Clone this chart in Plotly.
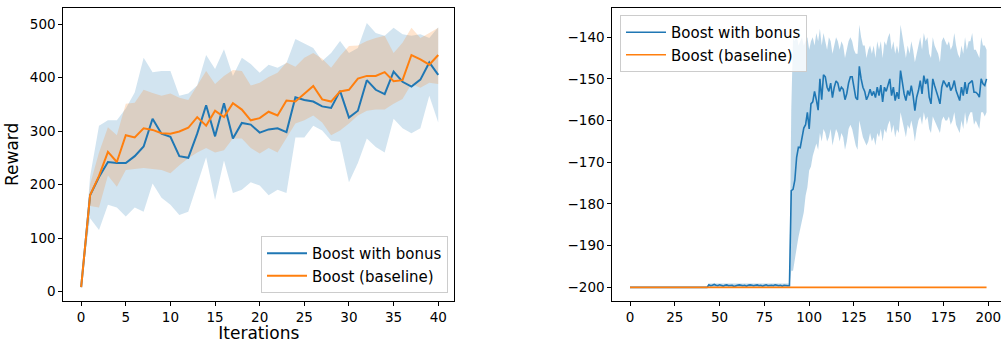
import plotly.graph_objects as go

# ---------------- Left panel data (41 iterations) ----------------
iters = list(range(41))
bonus_mean = [8, 180, 214, 242, 240, 240, 253, 271, 323, 295, 289, 253, 250, 295, 348, 290, 352, 286, 315, 312,
              297, 303, 305, 298, 363, 358, 355, 346, 343, 375, 325, 338, 395, 377, 369, 411, 392, 383, 396, 428, 405]
bonus_upper = [8, 215, 310, 320, 320, 342, 372, 437, 410, 412, 412, 366, 370, 385, 442, 416, 453, 403, 437, 425,
               409, 424, 418, 427, 472, 463, 455, 431, 446, 468, 446, 455, 502, 483, 478, 493, 481, 478, 481, 474, 494]
bonus_lower = [8, 137, 115, 162, 157, 140, 157, 149, 202, 175, 162, 143, 149, 202, 251, 171, 245, 184, 190, 204,
               198, 180, 190, 184, 288, 288, 310, 301, 282, 280, 204, 240, 286, 270, 260, 323, 305, 296, 305, 366, 316]
base_mean = [8, 180, 216, 261, 242, 292, 288, 305, 302, 296, 295, 299, 306, 326, 310, 338, 326, 352, 340, 320,
             324, 336, 329, 357, 355, 369, 384, 359, 355, 374, 377, 398, 403, 403, 410, 393, 395, 442, 434, 424, 442]
base_upper = [8, 200, 260, 307, 292, 351, 353, 377, 371, 366, 370, 362, 358, 385, 412, 388, 403, 414, 412, 385,
              390, 401, 409, 428, 420, 437, 446, 435, 418, 440, 459, 460, 468, 474, 478, 446, 465, 493, 474, 483, 493]
base_lower = [8, 160, 157, 217, 196, 227, 229, 231, 229, 227, 221, 236, 249, 260, 268, 260, 264, 286, 286, 268,
              258, 268, 260, 286, 314, 320, 329, 316, 292, 301, 314, 329, 338, 340, 340, 351, 360, 388, 381, 390, 388]

# ---------------- Right panel data (200 steps) ----------------
steps = list(range(200))
r_bonus_mean = ([-200.0] * 44 +
    [-199.4, -199.6, -199.5, -199.3, -199.5, -199.6, -199.4, -199.5, -199.7, -199.5,
     -199.4, -199.6, -199.5, -199.5, -199.8, -199.6, -199.5, -199.4, -199.5, -199.6,
     -199.5, -199.7, -199.5, -199.4, -199.5, -199.6, -199.5, -199.4, -199.6, -199.5,
     -199.7, -199.5, -199.4, -199.6, -199.5, -199.5, -199.6, -199.4, -199.5, -199.6,
     -199.5, -199.7, -199.5, -199.6, -199.6, -199.6] +
    [-176.8, -176.5, -174.3, -168.8, -166.4, -166.5, -164.5, -161.8, -161.0, -158.0,
     -162.0, -156.0, -155.5, -153.0, -155.0, -157.5, -150.0, -155.0, -149.0, -149.5,
     -152.0, -153.0, -151.0, -154.5, -152.0, -150.5, -151.0, -153.0, -152.0, -152.5,
     -155.0, -153.5, -151.0, -149.5, -149.5, -152.0, -154.5, -155.0, -147.0, -150.0,
     -152.0, -153.0, -155.0, -154.0, -152.5, -154.0, -153.0, -154.5, -152.0, -154.0,
     -151.5, -155.5, -152.0, -153.0, -151.5, -150.0, -154.0, -152.0, -155.2, -153.2,
     -154.8, -148.0, -150.8, -153.6, -155.2, -152.8, -154.0, -151.6, -154.0, -157.6,
     -154.4, -152.8, -150.4, -153.6, -149.2, -151.2, -150.0, -154.4, -156.0, -150.0,
     -151.6, -152.8, -154.4, -156.0, -152.0, -150.4, -151.2, -152.0, -150.8, -152.8,
     -152.0, -150.4, -152.8, -154.0, -155.2, -152.0, -154.0, -150.8, -153.6, -151.2,
     -150.8, -150.4, -153.2, -153.2, -153.6, -154.4, -150.0, -151.2, -151.6, -150.0])
r_bonus_upper = ([-200.0] * 44 + [-199.1] * 46 +
    [-157.5, -140, -141, -139, -142, -141, -140, -142, -141, -140,
     -143, -141, -140, -142, -139, -141, -138, -142, -139, -141,
     -143, -140, -141, -144, -142, -140, -141, -143, -141, -142,
     -145, -143, -141, -140, -141, -143, -144, -144, -137, -140,
     -142, -142, -145, -143, -142, -144, -142, -145, -141, -143,
     -141, -145, -141, -142, -140, -139, -143, -141, -144, -142,
     -144, -137, -140, -143, -145, -142, -144, -141, -143, -146,
     -144, -142, -140, -143, -139, -141, -140, -144, -145, -140,
     -142, -143, -144, -146, -141, -140, -141, -142, -141, -143,
     -142, -139, -142, -144, -145, -142, -144, -140, -143, -141,
     -141, -139, -143, -143, -144, -145, -140, -142, -142, -143])
r_bonus_lower = ([-200.0] * 44 + [-199.9] * 46 +
    [-196, -196, -193, -190.6, -188, -185.5, -184, -182, -178, -176,
     -172, -171, -168.5, -167, -165.5, -167, -163, -165, -162, -163,
     -165, -164, -162, -166, -164, -162, -163, -165, -163, -164,
     -167, -165, -162, -161, -162, -164, -166, -167, -160, -162,
     -164, -165, -166, -165, -163, -165, -164, -166, -163, -164,
     -162, -165, -162, -163, -161, -160, -163, -161, -164, -162,
     -163, -158, -160, -162, -164, -161, -162, -160, -162, -165,
     -162, -160, -159, -161, -158, -160, -159, -162, -163, -159,
     -160, -161, -162, -163, -160, -159, -160, -160, -159, -161,
     -160, -158, -161, -162, -163, -160, -162, -158, -161, -159,
     -158, -158, -161, -160, -161, -162, -158, -158, -159, -158])
r_base_mean = [-200.0] * 200

for arr in (bonus_mean, bonus_upper, bonus_lower, base_mean, base_upper, base_lower):
    assert len(arr) == 41, len(arr)
for arr in (r_bonus_mean, r_bonus_upper, r_bonus_lower, r_base_mean):
    assert len(arr) == 200, len(arr)

BLUE = "#1f77b4"
ORANGE = "#ff7f0e"
FONT = "DejaVu Sans"

fig = go.Figure()


def band(x, up, lo, color, xa, ya):
    fig.add_trace(go.Scatter(
        x=list(x) + list(x)[::-1], y=list(up) + list(lo)[::-1],
        fill="toself", fillcolor=color, line=dict(width=0), mode="lines",
        hoverinfo="skip", showlegend=False, xaxis=xa, yaxis=ya))


# left panel
band(iters, bonus_upper, bonus_lower, "rgba(31,119,180,0.2)", "x", "y")
band(iters, base_upper, base_lower, "rgba(255,127,14,0.2)", "x", "y")
fig.add_trace(go.Scatter(x=iters, y=bonus_mean, mode="lines", name="Boost with bonus",
                         line=dict(color=BLUE, width=2), xaxis="x", yaxis="y", legend="legend"))
fig.add_trace(go.Scatter(x=iters, y=base_mean, mode="lines", name="Boost (baseline)",
                         line=dict(color=ORANGE, width=2), xaxis="x", yaxis="y", legend="legend"))

# right panel
band(steps, r_bonus_upper, r_bonus_lower, "rgba(31,119,180,0.3)", "x2", "y2")
fig.add_trace(go.Scatter(x=steps, y=r_bonus_mean, mode="lines", name="Boost with bonus",
                         line=dict(color=BLUE, width=1.6), xaxis="x2", yaxis="y2", legend="legend2"))
fig.add_trace(go.Scatter(x=steps, y=r_base_mean, mode="lines", name="Boost (baseline)",
                         line=dict(color=ORANGE, width=1.6), xaxis="x2", yaxis="y2", legend="legend2"))

W, H = 1001, 343
ydom = [1 - 300.7 / H, 1 - 8 / H]
axis_common = dict(showline=True, linecolor="black", linewidth=1, ticks="outside", ticklen=4,
                   tickwidth=1, tickcolor="black", showgrid=False, zeroline=False, automargin=False,
                   ticklabeloverflow="allow",
                   tickfont=dict(family=FONT, size=13.5, color="black"))

fig.update_layout(
    width=W, height=H, margin=dict(l=0, r=0, t=0, b=0, autoexpand=False),
    paper_bgcolor="white", plot_bgcolor="white",
    font=dict(family=FONT, color="black"),
    xaxis=dict(domain=[63.3 / W, 454.3 / W], range=[-2, 41.8], tick0=0, dtick=5, mirror=True,
               anchor="y", title=dict(text="Iterations", font=dict(family=FONT, size=17), standoff=2),
               **axis_common),
    yaxis=dict(domain=ydom, range=[-17.2, 529.9], tick0=0, dtick=100, mirror=True, anchor="x",
               title=dict(text="Reward", font=dict(family=FONT, size=17), standoff=6),
               **axis_common),
    xaxis2=dict(domain=[612.3 / W, 1.0], range=[-9.88, 207.07], tick0=0, dtick=25, mirror=True,
                anchor="y2", **axis_common),
    yaxis2=dict(domain=ydom, range=[-203.2, -133.0], tick0=-200, dtick=10, mirror=False,
                anchor="x2", **axis_common),
    legend=dict(x=448 / W, y=1 - 293 / H, xanchor="right", yanchor="bottom", itemwidth=40,
                bgcolor="rgba(255,255,255,0.8)", bordercolor="#cccccc", borderwidth=1,
                font=dict(family=FONT, size=15, color="black")),
    legend2=dict(x=620 / W, y=1 - 15 / H, xanchor="left", yanchor="top", itemwidth=40,
                 bgcolor="rgba(255,255,255,0.8)", bordercolor="#cccccc", borderwidth=1,
                 font=dict(family=FONT, size=15, color="black")),
)

fig.write_html("out.html", config={"displayModeBar": False},
               post_script="document.body.style.margin='0';document.body.style.overflow='hidden';")
